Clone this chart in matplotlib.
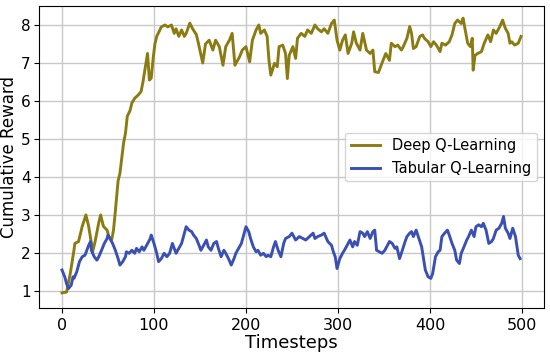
import matplotlib
matplotlib.use("Agg")
import matplotlib.pyplot as plt

deep_t = [0,5,9,13,14,18,22,26,29,32,33,36,40,42,45,49,51,54,56,58,60,61,63,65,67,69,71,74,76,79,83,86,88,90,93,95,97,99,101,103,105,108,112,115,119,122,124,127,130,133,135,139,142,146,148,
          153,156,160,164,167,171,175,178,182,185,188,193,196,200,204,207,211,214,216,220,223,225,227,231,234,236,240,243,245,247,251,254,256,260,264,267,271,275,278,282,285,289,293,296,299,302,305,308,311,315,317,320,324,327,331,335,338,340,344,
          349,352,356,358,362,365,369,371,375,378,380,382,385,389,392,394,398,401,404,407,411,413,417,421,424,427,430,434,436,438,441,444,446,447,449,452,456,459,463,466,469,472,476,479,482,485,487,489,492,496,499]
deep_v = [0.95,0.97,1.46,2.07,2.25,2.3,2.7,3.0,2.7,2.25,2.0,2.3,2.8,3.0,2.7,2.6,2.42,2.34,2.6,3.1,3.65,3.9,4.1,4.5,4.9,5.15,5.6,5.75,5.95,6.07,6.16,6.25,6.5,6.8,7.25,6.55,6.6,7.1,7.5,7.7,7.8,7.95,8.0,7.95,8.0,7.78,7.9,7.7,7.87,7.7,7.78,8.05,7.9,7.75,7.55,
          7.0,7.5,7.6,7.34,7.6,7.43,6.94,7.43,7.6,7.78,6.94,7.16,7.34,7.43,7.03,7.6,7.87,8.0,7.78,7.87,7.7,7.07,6.68,6.99,6.9,7.43,7.47,7.25,6.59,7.2,7.43,7.12,7.65,7.78,7.7,7.87,7.78,8.0,7.9,7.82,7.9,7.78,8.04,8.13,7.6,7.34,7.6,7.74,7.25,7.52,7.82,7.52,7.34,7.78,7.34,7.25,7.34,6.77,6.75,
          7.07,7.25,7.07,7.52,7.43,7.47,7.34,7.43,7.65,7.96,7.78,7.38,7.43,7.7,7.74,7.65,7.56,7.43,7.56,7.47,7.3,7.52,7.47,7.56,7.74,8.04,8.13,8.04,8.18,7.91,7.52,7.43,7.65,6.81,7.2,7.25,7.3,7.52,7.74,7.56,7.87,7.78,7.96,8.13,7.91,7.78,7.52,7.56,7.47,7.52,7.7]

tab_t = [0,3,5,7,10,12,13,16,19,22,25,27,29,31,32,35,38,40,43,46,49,50,52,55,58,61,63,66,69,70,73,76,79,81,84,87,89,92,96,97,100,103,105,108,111,114,117,120,122,124,127,130,133,135,138,141,143,146,149,151,154,157,159,162,165,168,170,173,176,178,181,184,187,189,192,195,198,200,203,205,208,211,213,216,219,222,224,227,230,232,235,238,241,243,247,250,
         254,258,262,265,269,273,275,278,282,285,289,293,295,297,299,302,305,307,310,313,316,318,321,324,327,329,332,335,338,340,342,
         348,351,353,356,359,362,364,367,370,373,375,378,380,382,385,388,391,393,395,398,401,403,406,409,411,413,416,419,421,424,427,429,432,434,437,440,442,445,448,450,453,456,458,461,464,467,469,472,475,478,480,482,485,487,490,493,496,498]
tab_v = [1.55,1.37,1.19,1.06,1.15,1.37,1.33,1.5,1.77,1.9,1.94,2.07,2.2,2.3,2.07,1.9,1.81,1.9,2.07,2.25,2.38,2.47,2.38,2.25,2.07,1.85,1.68,1.77,1.9,2.03,1.99,2.07,1.99,2.12,2.03,2.16,2.07,2.2,2.38,2.47,2.25,1.99,1.77,1.85,1.99,1.9,1.99,2.25,2.12,1.99,2.12,2.25,2.52,2.69,2.6,2.56,2.47,2.38,2.2,2.07,2.2,2.34,2.16,2.07,2.25,2.3,2.12,1.9,2.07,1.99,1.85,1.68,1.85,1.99,2.12,2.25,2.52,2.69,2.56,2.38,2.16,2.03,2.07,1.94,1.99,1.9,1.94,1.9,2.16,2.3,2.07,1.9,2.25,2.38,2.43,2.52,
         2.34,2.43,2.38,2.34,2.43,2.52,2.38,2.43,2.47,2.52,2.3,2.2,2.03,1.9,1.59,1.85,1.99,2.07,2.2,2.34,2.16,2.3,2.2,2.56,2.52,2.43,2.56,2.38,2.56,2.6,2.07,
         1.99,2.07,2.16,2.3,2.25,2.12,2.16,1.85,2.07,2.3,2.43,2.52,2.56,2.43,2.6,2.38,2.16,1.85,1.55,1.37,1.33,1.46,1.9,2.03,2.07,2.43,2.52,2.6,2.47,2.25,2.07,1.81,1.72,1.99,2.16,2.34,2.43,2.6,2.43,2.69,2.74,2.69,2.78,2.6,2.25,2.3,2.38,2.6,2.65,2.78,2.96,2.65,2.52,2.38,2.65,2.43,1.94,1.85]

series_labels = ["Deep Q-Learning", "Tabular Q-Learning"]
x_ticks = [0, 100, 200, 300, 400, 500]
y_ticks = [1, 2, 3, 4, 5, 6, 7, 8]

fig = plt.figure(figsize=(5.5, 3.52), dpi=100)
ax = fig.add_axes([39/550, 44/352, 505/550, 302/352])
ax.plot(deep_t, deep_v, color="#8a7c12", lw=2.1, label=series_labels[0])
ax.plot(tab_t, tab_v, color="#3a50b2", lw=2.1, label=series_labels[1])
ax.set_xlim(-25, 524)
ax.set_ylim(0.55, 8.5)
ax.set_xticks(x_ticks)
ax.set_yticks(y_ticks)
ax.tick_params(axis="x", labelsize=11.5)
ax.tick_params(axis="y", labelsize=11, pad=2.5)
ax.grid(True, color="#c8c8c8", lw=1)
ax.set_axisbelow(True)
ax.set_xlabel("Timesteps", fontsize=13, labelpad=1)
ax.set_ylabel("Cumulative Reward", fontsize=12, labelpad=2)
ax.legend(loc="center right", fontsize=10.5, handlelength=2.0)
fig.savefig("out.png", dpi=100)
